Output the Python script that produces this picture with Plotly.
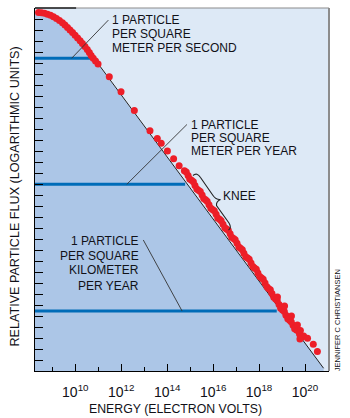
import plotly.graph_objects as go

# ---------------- data (log10 of energy in eV, relative log flux units) ----------------
energy_log10 = [8.40, 8.53, 8.66, 8.79, 8.92, 9.05, 9.18, 9.31, 9.44, 9.55, 9.66, 9.77,
                9.88, 9.99, 10.10, 10.21, 10.31, 10.42, 10.52, 10.61, 10.69, 10.78, 10.88, 10.99,
                11.48, 11.99, 12.57, 13.25, 13.57, 13.74, 14.01, 14.28, 14.52,
                14.75, 14.91, 15.06, 15.21, 15.36, 15.52, 15.67, 15.82, 15.97, 16.13, 16.28, 16.43,
                16.58, 16.74, 16.89, 17.04, 17.19, 17.34, 17.50, 17.65, 17.80, 17.95, 18.11, 18.26,
                18.41, 18.56, 18.72, 18.87, 19.02, 19.17, 19.33, 19.48, 19.63, 19.76, 19.87,
                14.83, 14.98, 15.14, 15.29, 15.44, 15.59, 15.74, 15.90, 16.05, 16.20, 16.35, 16.51,
                16.66, 16.81, 16.96, 17.12, 17.27, 17.42, 17.57, 17.73, 17.88, 18.03, 18.18, 18.34,
                18.49, 18.64, 18.79, 18.94, 19.10, 19.25, 19.40, 19.55, 19.70, 19.82,
                18.80, 19.11, 19.41, 19.67, 19.80, 19.94, 19.78,
                20.11, 20.36, 20.54]
flux_log = [32.59, 32.56, 32.52, 32.44, 32.34, 32.20, 32.05, 31.86, 31.66, 31.45, 31.23, 31.00,
            30.77, 30.53, 30.27, 30.02, 29.77, 29.50, 29.23, 28.95, 28.68, 28.43, 28.18, 27.91,
            26.75, 25.39, 23.68, 21.85, 21.14, 20.70, 20.00, 19.30, 18.66,
            18.21, 17.77, 17.34, 16.86, 16.43, 16.00, 15.56, 15.11, 14.68, 14.25, 13.79, 13.34,
            12.91, 12.48, 12.05, 11.61, 11.15, 10.70, 10.27, 9.82, 9.36, 8.91, 8.45, 8.00,
            7.50, 7.05, 6.55, 6.05, 5.55, 5.06, 4.61, 4.15, 3.73, 3.36, 3.09,
            18.09, 17.46, 17.20, 16.55, 16.32, 15.68, 15.44, 14.80, 14.57, 13.92, 13.67, 13.03,
            12.80, 12.17, 11.93, 11.28, 11.03, 10.39, 10.15, 9.49, 9.24, 8.58, 8.33, 7.65,
            7.38, 6.70, 6.40, 5.70, 5.41, 4.74, 4.48, 3.84, 3.65, 3.13,
            6.73, 5.91, 5.00, 4.18, 3.68, 3.18, 2.91,
            2.97, 2.44, 1.77]

# straight power-law reference line
line_energy = [10.90, 20.81]
line_flux = [28.20, 0.25]

# "1 particle per ..." levels and where each level line stops
level_flux = [28.43, 16.97, 5.45]
level_end_energy = [10.71, 14.78, 18.77]

tick_exponents = [10, 12, 14, 16, 18, 20]
minor_exponents = [9, 11, 13, 15, 17, 19]
tick_labels = ["10<sup>%d</sup>" % e for e in tick_exponents]

X_MIN, X_MAX = 8.245, 21.045
Y_MIN, Y_MAX = 0, 33

LIGHT = "rgb(221,233,246)"
DARK = "rgb(172,198,231)"
BLUE = "rgb(0,108,184)"
RED = "rgb(237,30,40)"
FONT = "Liberation Sans, Arial, sans-serif"
TXT = "#111118"

fig = go.Figure()

# dark region under the spectrum (top curve + straight line)
n_curve = 23
poly_x = [X_MIN, X_MIN] + energy_log10[:n_curve] + [line_energy[1], line_energy[1]]
poly_y = [Y_MIN, flux_log[0]] + flux_log[:n_curve] + [line_flux[1], Y_MIN]
fig.add_trace(go.Scatter(x=poly_x, y=poly_y, fill="toself", fillcolor=DARK,
                         line=dict(width=0), mode="lines", hoverinfo="skip"))

# level lines
for lv, le in zip(level_flux, level_end_energy):
    fig.add_trace(go.Scatter(x=[X_MIN, le], y=[lv, lv], mode="lines",
                             line=dict(color=BLUE, width=3), hoverinfo="skip"))

# power-law line
fig.add_trace(go.Scatter(x=line_energy, y=line_flux, mode="lines",
                         line=dict(color="#222", width=1), hoverinfo="skip"))

# data points
fig.add_trace(go.Scatter(x=energy_log10, y=flux_log, mode="markers",
                         marker=dict(color=RED, size=7, line=dict(width=0)),
                         hoverinfo="skip"))

# leader lines (annotation pointers)
leaders = [((9.84, 28.43), (11.44, 31.90)),
           ((12.24, 16.97), (14.86, 22.41)),
           ((12.96, 11.91), (14.65, 5.45))]
shapes = []
for (x0, y0), (x1, y1) in leaders:
    shapes.append(dict(type="line", xref="x", yref="y", x0=x0, y0=y0, x1=x1, y1=y1,
                       line=dict(color="#333", width=0.9)))

# knee brace
brace = ("M 15.124,17.77 Q 15.30,18.09 15.451,17.59 L 15.995,15.95 "
         "Q 16.126,15.55 16.321,15.59 Q 16.126,15.41 16.147,15.05 "
         "L 16.691,13.45 Q 16.822,13.00 16.669,12.82")
shapes.append(dict(type="path", xref="x", yref="y", path=brace,
                   line=dict(color="#222", width=1.1)))

# top and right frame
shapes.append(dict(type="line", xref="paper", yref="paper", x0=0.14, y0=1, x1=1, y1=1,
                   line=dict(color="#8c8c8c", width=1.2)))
shapes.append(dict(type="line", xref="paper", yref="paper", x0=0, y0=1, x1=0.14, y1=1,
                   line=dict(color="#111", width=1.3)))
shapes.append(dict(type="line", xref="paper", yref="paper", x0=1, y0=0, x1=1, y1=1,
                   line=dict(color="#8c8c8c", width=2)))

ann = []
def txt(x, y, s, anchor="left", size=12):
    ann.append(dict(x=x, y=y, xref="x", yref="y", text=s, showarrow=False,
                    xanchor=anchor, yanchor="middle",
                    font=dict(family=FONT, size=size, color=TXT)))

for s, y in zip(["1 PARTICLE", "PER SQUARE", "METER PER SECOND"], [31.95, 30.65, 29.36]):
    txt(11.49, y, s)
for s, y in zip(["1 PARTICLE", "PER SQUARE", "METER PER YEAR"], [22.38, 21.18, 19.97]):
    txt(14.95, y, s)
for s, y in zip(["1 PARTICLE", "PER SQUARE", "KILOMETER", "PER YEAR"], [11.86, 10.50, 9.14, 7.77]):
    txt(12.84, y, s, anchor="right")
txt(16.33, 15.88, "KNEE")

ann.append(dict(x=0.479, y=-0.106, xref="paper", yref="paper", showarrow=False,
                text="ENERGY (ELECTRON VOLTS)", xanchor="center", yanchor="middle",
                font=dict(family=FONT, size=12.3, color=TXT)))
ann.append(dict(x=-0.0714, y=0.4807, xref="paper", yref="paper", showarrow=False,
                text="RELATIVE PARTICLE FLUX (LOGARITHMIC UNITS)", textangle=-90,
                xanchor="center", yanchor="middle",
                font=dict(family=FONT, size=12.6, color=TXT)))
ann.append(dict(x=1.0316, y=0.1405, xref="paper", yref="paper", showarrow=False,
                text="JENNIFER C CHRISTIANSEN", textangle=-90,
                xanchor="center", yanchor="middle",
                font=dict(family=FONT, size=7.5, color=TXT)))

fig.update_layout(
    width=350, height=418,
    margin=dict(l=35, r=21, t=8, b=47, pad=0),
    paper_bgcolor="white", plot_bgcolor=LIGHT,
    showlegend=False,
    shapes=shapes, annotations=ann,
    xaxis=dict(range=[X_MIN, X_MAX], tickmode="array", tickvals=tick_exponents,
               ticktext=tick_labels, ticks="inside", ticklen=7, tickwidth=1,
               tickcolor="black", showline=True, linecolor="black", linewidth=1.3,
               showgrid=False, zeroline=False, ticklabelstandoff=8,
               tickfont=dict(family=FONT, size=14, color=TXT),
               minor=dict(tickmode="array", tickvals=minor_exponents, ticks="inside",
                          ticklen=4, tickwidth=1, tickcolor="black", showgrid=False)),
    yaxis=dict(range=[Y_MIN, Y_MAX], tickmode="array", tickvals=list(range(1, 33)),
               ticks="inside", ticklen=8, tickwidth=1, tickcolor="black",
               showticklabels=False, showline=True, linecolor="black", linewidth=1.3,
               showgrid=False, zeroline=False),
)

fig.write_html("out.html")
